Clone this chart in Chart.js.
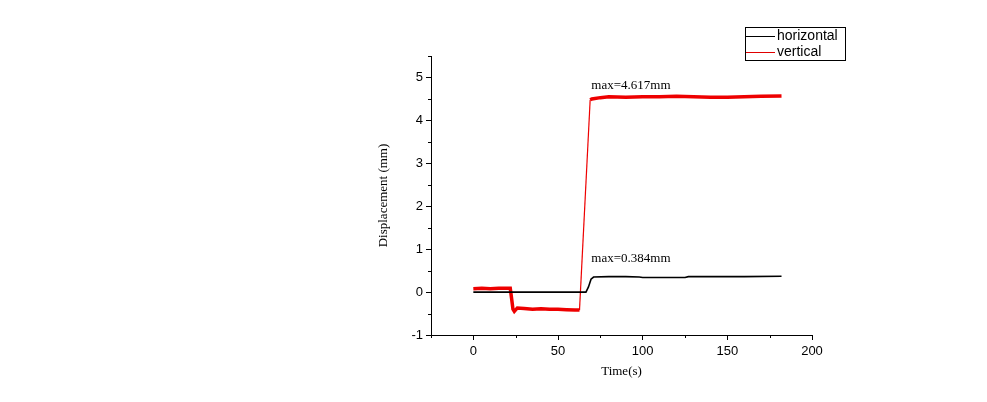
<!DOCTYPE html>
<html>
<head>
<meta charset="utf-8">
<script src="https://cdn.jsdelivr.net/npm/chart.js@4"></script>
<style>
  html, body { margin: 0; padding: 0; background: #fff; }
  #wrap { width: 987px; height: 402px; position: relative; }
</style>
</head>
<body>
<div id="wrap"><canvas id="chart"></canvas></div>
<script>
// Time (s) and displacement (mm)
const hTime = [0, 10, 20, 30, 40, 50, 60, 66.5, 68, 69.5, 71, 80, 90, 98, 100, 110, 120, 125, 127, 140, 160, 182];
const hDisp = [0, 0, 0, 0, 0, 0, 0, 0, 0.12, 0.3, 0.35, 0.36, 0.36, 0.35, 0.34, 0.34, 0.34, 0.34, 0.36, 0.36, 0.36, 0.37];

const vTime = [0, 5, 10, 15, 21.8, 22.6, 23.4, 24.2, 26, 30, 35, 40, 45, 50, 55, 60, 62.7, 69, 70, 75, 80, 90, 100, 110, 120, 130, 140, 150, 160, 170, 182];
const vDisp = [0.08, 0.09, 0.08, 0.09, 0.09, -0.15, -0.4, -0.45, -0.37, -0.38, -0.4, -0.39, -0.4, -0.4, -0.41, -0.42, -0.42, 4.48, 4.5, 4.53, 4.55, 4.54, 4.55, 4.55, 4.56, 4.55, 4.54, 4.54, 4.55, 4.56, 4.57];

const xTicks = [0, 50, 100, 150, 200];
const yTicks = [-1, 0, 1, 2, 3, 4, 5];

const notes = [
  { text: 'max=4.617mm', x: 69.7, y: 4.81 },
  { text: 'max=0.384mm', x: 69.7, y: 0.79 }
];

const toPts = (t, v) => t.map((x, i) => ({ x: x, y: v[i] }));

// minor ticks, text notes and the boxed legend
const extras = {
  id: 'extras',
  afterDraw(chart) {
    const ctx = chart.ctx;
    const xs = chart.scales.x, ys = chart.scales.y;
    const area = chart.chartArea;
    ctx.save();
    ctx.strokeStyle = '#000';
    ctx.lineWidth = 1;
    ctx.beginPath();
    for (let v = -25; v <= 200; v += 50) {
      const px = Math.round(xs.getPixelForValue(v)) + 0.5;
      ctx.moveTo(px, area.bottom);
      ctx.lineTo(px, area.bottom + 3);
    }
    for (let v = -0.5; v <= 5.5; v += 1) {
      const py = Math.round(ys.getPixelForValue(v)) + 0.5;
      ctx.moveTo(area.left, py);
      ctx.lineTo(area.left - 3, py);
    }
    ctx.stroke();

    ctx.fillStyle = '#000';
    ctx.font = '13px "Liberation Serif", serif';
    ctx.textBaseline = 'middle';
    notes.forEach(n => {
      ctx.fillText(n.text, xs.getPixelForValue(n.x), ys.getPixelForValue(n.y));
    });

    // legend
    const lx = 745, ly = 27, lw = 100, lh = 33;
    ctx.strokeRect(lx + 0.5, ly + 0.5, lw, lh);
    ctx.font = '14px "Liberation Sans", Arial, sans-serif';
    const items = [
      { label: 'horizontal', color: '#000' },
      { label: 'vertical', color: '#e00000' }
    ];
    items.forEach((it, i) => {
      const y = ly + 9 + i * 16;
      ctx.strokeStyle = it.color;
      ctx.beginPath();
      ctx.moveTo(lx + 1, y + 0.5);
      ctx.lineTo(lx + 30, y + 0.5);
      ctx.stroke();
      ctx.fillText(it.label, lx + 32, y);
    });
    ctx.restore();
  }
};

const tickFont = { family: '"Liberation Sans", Arial, sans-serif', size: 13 };
const titleFont = { family: '"Liberation Serif", "Times New Roman", serif', size: 13 };

new Chart(document.getElementById('chart'), {
  type: 'line',
  data: {
    datasets: [
      {
        label: 'horizontal',
        data: toPts(hTime, hDisp),
        borderColor: '#000',
        borderWidth: 1.6,
        pointRadius: 0,
        tension: 0
      },
      {
        label: 'vertical',
        data: toPts(vTime, vDisp),
        borderColor: '#ee0000',
        borderWidth: 3.5,
        pointRadius: 0,
        tension: 0,
        // the fast rise is a thin line, the noisy plateaus a thick band
        segment: {
          borderWidth: c => (c.p1.parsed.y - c.p0.parsed.y > 1 ? 1.2 : 3.5)
        }
      }
    ]
  },
  options: {
    responsive: true,
    maintainAspectRatio: false,
    animation: false,
    layout: { padding: { left: 372, top: 56, right: 175, bottom: 19 } },
    plugins: {
      legend: { display: false },
      tooltip: { enabled: false }
    },
    scales: {
      x: {
        type: 'linear',
        min: -25,
        max: 200,
        afterBuildTicks: s => { s.ticks = xTicks.map(v => ({ value: v })); },
        afterFit: s => { s.height = 48; },
        ticks: { font: tickFont, color: '#000', padding: 4, maxRotation: 0 },
        grid: { drawOnChartArea: false, tickLength: 5, color: '#000' },
        border: { color: '#000', width: 1 },
        title: { display: true, text: 'Time(s)', font: titleFont, color: '#000' }
      },
      y: {
        type: 'linear',
        min: -1,
        max: 5.5,
        afterBuildTicks: s => { s.ticks = yTicks.map(v => ({ value: v })); },
        afterFit: s => { s.width = 59; },
        ticks: { font: tickFont, color: '#000', padding: 3 },
        grid: { drawOnChartArea: false, tickLength: 5, color: '#000' },
        border: { color: '#000', width: 1 },
        title: { display: true, text: 'Displacement (mm)', font: titleFont, color: '#000' }
      }
    }
  },
  plugins: [extras]
});
</script>
</body>
</html>
